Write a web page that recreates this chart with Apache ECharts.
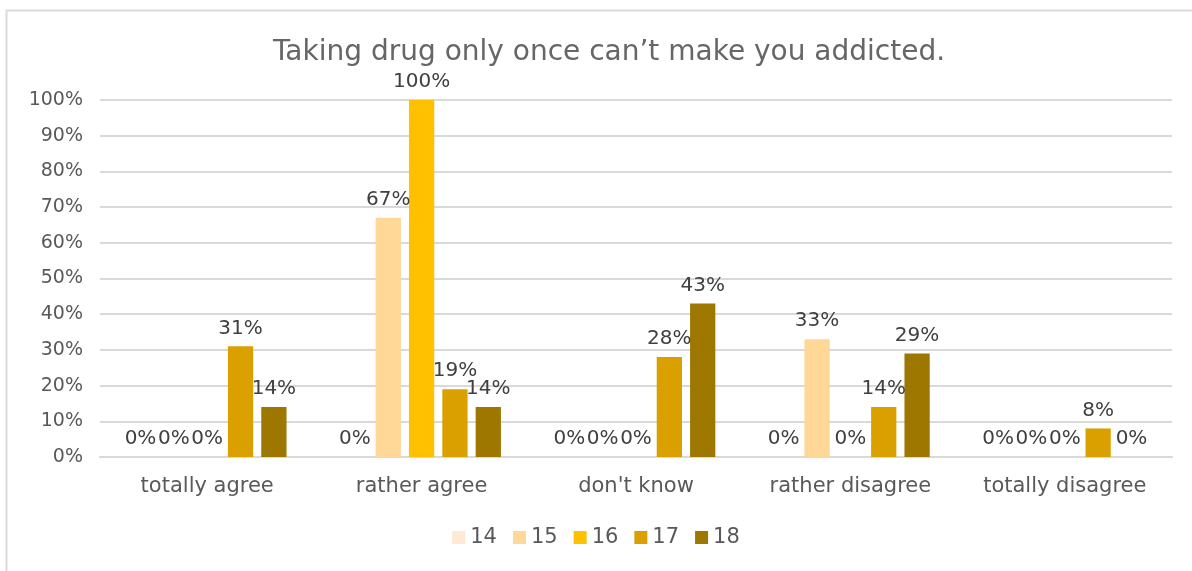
<!DOCTYPE html>
<html>
<head>
<meta charset="utf-8">
<script src="https://cdn.jsdelivr.net/npm/echarts@6/dist/echarts.min.js"></script>
<style>html,body{margin:0;padding:0;background:#fff}#c{width:1192px;height:571px}</style>
</head>
<body>
<div id="c"></div>
<script>
const title = "Taking drug only once can\u2019t make you addicted.";
const categories = ["totally agree", "rather agree", "don't know", "rather disagree", "totally disagree"];
const seriesNames = ["14", "15", "16", "17", "18"];
const s14 = [0, 0, 0, 0, 0];
const s15 = [0, 67, 0, 33, 0];
const s16 = [0, 100, 0, 0, 0];
const s17 = [31, 19, 28, 14, 8];
const s18 = [14, 14, 43, 29, 0];
const colors = ["#FFE9D2", "#FFD797", "#FFC000", "#D9A000", "#9E7700"];
const yTicks = [0, 10, 20, 30, 40, 50, 60, 70, 80, 90, 100];

const allData = [s14, s15, s16, s17, s18];
const FONT = "DejaVu Sans";
const chart = echarts.init(document.getElementById('c'));
chart.setOption({
  animation: false,
  textStyle: {fontFamily: FONT},
  graphic: [{
    type: 'rect', shape: {x: 6.5, y: 10.5, width: 1300, height: 700},
    style: {fill: 'none', stroke: '#d9d9d9', lineWidth: 2}, silent: true, z: -10
  }],
  title: {
    text: title, left: 604, textAlign: 'center', top: 34,
    textStyle: {fontFamily: FONT, fontSize: 28, fontWeight: 'normal', color: '#666666'}
  },
  legend: {
    data: seriesNames, bottom: 18, left: 'center',
    itemWidth: 13, itemHeight: 13, itemGap: 16, icon: 'rect',
    textStyle: {fontFamily: FONT, fontSize: 21, color: '#595959'}
  },
  grid: {left: 100, right: 20, top: 100, bottom: 114},
  xAxis: {
    type: 'category', data: categories,
    axisTick: {show: false},
    axisLine: {lineStyle: {color: '#d9d9d9', width: 2}},
    axisLabel: {fontFamily: FONT, fontSize: 21, color: '#595959', margin: 19, interval: 0}
  },
  yAxis: {
    type: 'value', min: 0, max: 100, interval: 10,
    axisLine: {show: false}, axisTick: {show: false},
    splitLine: {lineStyle: {color: '#d9d9d9', width: 2}},
    axisLabel: {fontFamily: FONT, fontSize: 19, color: '#595959', margin: 17,
      formatter: v => yTicks.includes(v) ? v + '%' : ''}
  },
  series: seriesNames.map((n, i) => ({
    name: n, type: 'bar', data: allData[i],
    barGap: '32%', barCategoryGap: '26%',
    itemStyle: {color: colors[i]},
    label: {show: true, position: 'top', distance: 8, formatter: p => p.value + '%',
      fontFamily: FONT, fontSize: 20, color: '#404040'}
  }))
});
</script>
</body>
</html>
